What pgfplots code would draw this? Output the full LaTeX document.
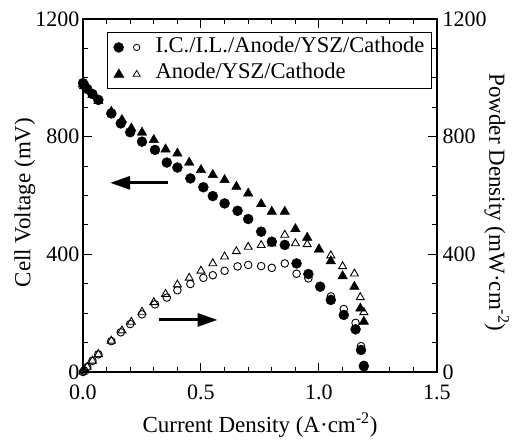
\documentclass[border=0pt]{standalone}
\usepackage{fontspec}
\setmainfont{Liberation Serif}
\usepackage{pgfplots}
\usepackage{pgfplotstable}
\pgfplotsset{compat=1.18}
\usetikzlibrary{arrows.meta}

% I.C./I.L./Anode/YSZ/Cathode : current (A/cm2), voltage (mV), power (mW/cm2)
\pgfplotstableread{
x      V     P
0.000  982   0
0.005  975   5
0.018  962   17
0.040  945   38
0.065  925   60
0.120  879   105
0.160  845   135
0.200  815   163
0.250  783   196
0.305  755   230
0.355  712   253
0.400  695   278
0.455  658   299
0.510  628   320
0.550  598   329
0.600  573   344
0.655  548   359
0.700  520   364
0.755  477   360
0.800  443   354
0.855  432   369
0.905  369   334
0.955  333   318
1.005  290   291
1.050  245   257
1.105  194   214
1.155  145   167
1.178  75    88
1.190  20    24
}\icil

% Anode/YSZ/Cathode
\pgfplotstableread{
x      V     P
0.000  978   0
0.005  972   5
0.018  962   17
0.040  942   38
0.065  922   60
0.120  885   106
0.165  857   141
0.205  828   170
0.250  814   204
0.300  789   237
0.350  757   265
0.400  743   297
0.450  712   320
0.500  687   344
0.550  670   369
0.600  653   392
0.650  630   410
0.700  607   425
0.755  571   431
0.800  545   436
0.855  545   466
0.900  486   437
0.950  457   434
1.000  417   417
1.050  377   396
1.100  326   359
1.150  290   334
1.175  216   254
1.190  171   203
}\asc

\pgfplotsset{
  cellaxis/.style={
    width=354pt, height=353pt, scale only axis,
    xmin=0, xmax=1.5, ymin=0, ymax=1200,
    xtick={0,0.5,1,1.5}, minor x tick num=4,
    ytick={0,400,800,1200}, minor y tick num=3,
    tick align=inside,
    major tick length=9pt, minor tick length=5pt,
    every tick/.style={black, line width=1pt},
    axis line style={line width=1.2pt},
    tick label style={font=\fontsize{22}{26}\selectfont},
    label style={font=\fontsize{23}{27}\selectfont},
    /pgf/number format/assume math mode=true,
    /pgf/number format/1000 sep={},
    clip=false,
  },
}

\begin{document}
\begin{tikzpicture}
\begin{axis}[cellaxis,
  ytick pos=left, xtick pos=both,
  xticklabel style={yshift=-9pt, /pgf/number format/.cd, fixed, fixed zerofill, precision=1},
  xlabel={Current Density (A·cm\textsuperscript{-2})},
  ylabel={Cell Voltage (mV)},
  xlabel style={at={(axis description cs:0.5,-0.15)}, anchor=center},
  ylabel style={at={(axis description cs:-0.164,0.48)}, anchor=center},
  legend style={at={(rel axis cs:0.068,0.963)}, anchor=north west,
    draw=black, line width=0.8pt, font=\fontsize{22.5}{26}\selectfont,
    inner xsep=6pt, inner ysep=5pt, row sep=6pt, column sep=14pt,
    nodes={inner xsep=1pt, inner ysep=0pt, text height=15pt, text depth=5pt},
    cells={anchor=west}},
  legend cell align=left,
]
\addplot[only marks, mark=*, mark size=5pt, mark options={fill=black, draw=black},
  legend image code/.code={
    \draw[fill=black] (9pt,0) circle (4.8pt);
    \draw[line width=0.8pt] (27pt,0) circle (3.2pt);}]
  table[x=x, y=V] {\icil};
\addplot[only marks, mark=triangle*, mark size=5.5pt, mark options={fill=black, draw=black},
  legend image code/.code={
    \draw[fill=black] (4.5pt,-3.8pt) -- (14pt,-3.8pt) -- (9.25pt,4.2pt) -- cycle;
    \draw[line width=0.8pt] (23.5pt,-2.8pt) -- (30.5pt,-2.8pt) -- (27pt,3pt) -- cycle;}]
  table[x=x, y=V] {\asc};
\legend{I.C./I.L./Anode/YSZ/Cathode, Anode/YSZ/Cathode}
\draw[line width=3pt, -{Triangle[length=20pt, width=13pt]}]
  (axis cs:0.36,643) -- (axis cs:0.115,643);
\draw[line width=3pt, -{Triangle[length=20pt, width=13pt]}]
  (axis cs:0.32,177) -- (axis cs:0.57,177);
\end{axis}
\begin{axis}[cellaxis,
  hide x axis, axis y line*=right, ytick pos=right,
  yticklabel style={xshift=2pt},
  ylabel={Powder Density (mW·cm\textsuperscript{-2})},
  ylabel style={at={(axis description cs:1.169,0.48)}, anchor=center, rotate=180},
]
\addplot[only marks, mark=o, mark size=3.8pt, mark options={line width=0.9pt, fill=white}]
  table[x=x, y=P] {\icil};
\addplot[only marks, mark=triangle, mark size=4.6pt, mark options={line width=0.9pt, fill=white}]
  table[x=x, y=P] {\asc};
\end{axis}
\path (-83pt,-63pt) rectangle (432pt,372pt);
\end{tikzpicture}
\end{document}
